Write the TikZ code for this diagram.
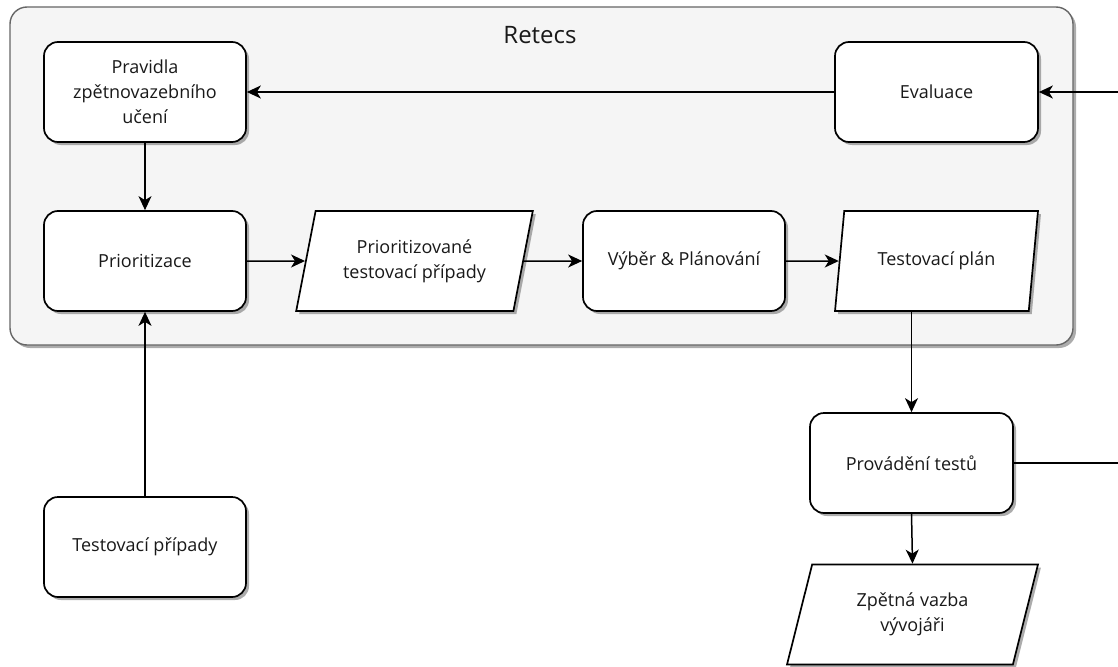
\documentclass[tikz,border=0pt]{standalone}
\usepackage{fontspec}
\setmainfont{Open Sans}
\usetikzlibrary{shapes.geometric,shadows,arrows.meta}

\begin{document}
\begin{tikzpicture}[x=1pt,y=-1pt,
  shadowed/.style={drop shadow={shadow xshift=3pt,shadow yshift=-3pt,fill=black!50,opacity=.65}},
  txt/.style={font=\fontsize{18}{25}\selectfont, align=center, text=black!90},
  procbox/.style={txt, shadowed, draw=black, line width=1.7pt, fill=white,
    rounded corners=14pt, minimum width=202pt, minimum height=100pt, inner sep=0pt},
  databox/.style={txt, shadowed, trapezium, trapezium left angle=72, trapezium right angle=108,
    trapezium stretches=true, draw=black, line width=1.7pt, fill=white,
    minimum height=100pt, inner sep=0pt},
  link/.style={line width=1.5pt, -{Stealth[length=14pt,width=13pt,inset=4pt]}},
  plain/.style={line width=1.5pt}
]
\useasboundingbox (0,0) rectangle (1118,666);

% Retecs group
\node (retecs) [shadowed, draw=black!60, line width=1.4pt, fill=black!4, rounded corners=17pt,
  minimum width=1063pt, minimum height=338pt, inner sep=0pt] at (541.5,176) {};
\node (title) [font=\fontsize{24}{28}\selectfont, text=black!90] at (540,35) {Retecs};

% steps
\node (prav) [procbox] at (145,92) {Pravidla\\zpětnovazebního\\učení};
\node (eval) [procbox, minimum width=203pt] at (936.5,92) {Evaluace};
\node (prio) [procbox] at (145,261) {Prioritizace};
\node (pprio) [databox, minimum width=237pt] at (414.5,261) {Prioritizované\\testovací případy};
\node (vyber) [procbox] at (684,261) {Výběr \& Plánování};
\node (plan) [databox, minimum width=203pt] at (936.5,261) {Testovací plán};
\node (prov) [procbox, minimum width=203pt] at (911.5,463) {Provádění testů};
\node (zpet) [databox, minimum width=251pt] at (912.5,614.5) {Zpětná vazba\\vývojáři};
\node (tc) [procbox] at (145,547) {Testovací případy};

% loop ends leaving the picture on the right
\coordinate (loopIn) at (1118,92);
\coordinate (loopOut) at (1118,463);

% connectors
\draw[link] (loopIn) -- (eval.east);
\draw[link] (eval.west) -- (prav.east);
\draw[link] (prav.south) -- (prio.north);
\draw[link] (prio.east) -- (pprio.west);
\draw[link] (pprio.east) -- (vyber.west);
\draw[link] (vyber.east) -- (plan.west);
\draw[link] (plan.south -| prov.north) -- (prov.north);
\draw[plain] (prov.east) -- (loopOut);
\draw[link] (prov.south) -- (zpet.north);
\draw[link] (tc.north) -- (prio.south);
\end{tikzpicture}
\end{document}
